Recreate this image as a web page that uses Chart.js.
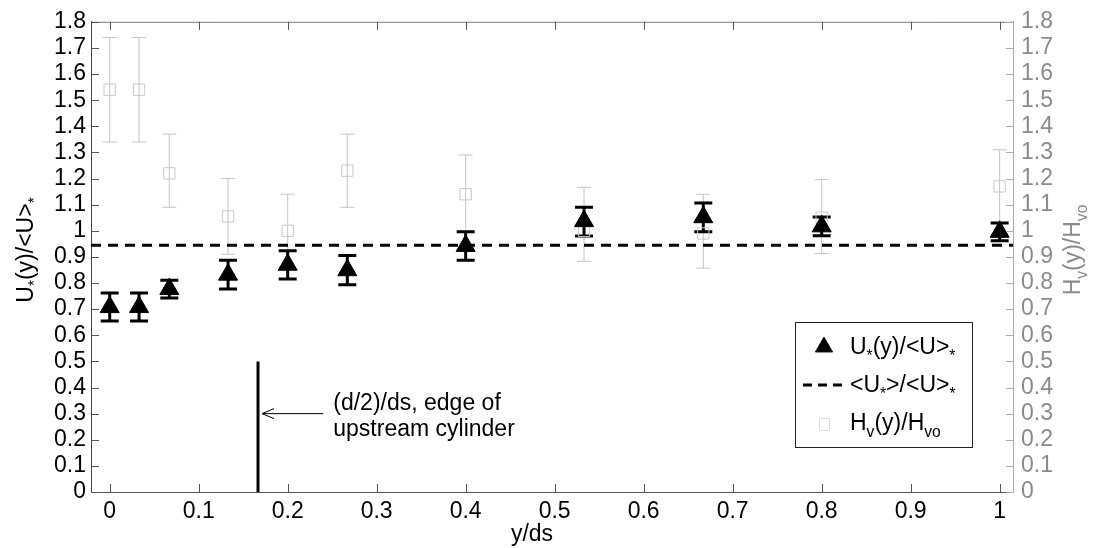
<!DOCTYPE html>
<html>
<head>
<meta charset="utf-8">
<script src="https://cdn.jsdelivr.net/npm/chart.js@4.4.1/dist/chart.umd.min.js"></script>
<style>
  html, body { margin: 0; padding: 0; background: #fff; }
  #wrap { width: 1094px; height: 548px; }
</style>
</head>
<body>
<div id="wrap"><canvas id="chart" width="1094" height="548"></canvas></div>
<script>
// measurement positions across the channel, y/ds
const yds = [0, 0.033, 0.067, 0.133, 0.2, 0.267, 0.4, 0.533, 0.667, 0.8, 1];

// U*(y)/<U>* with error bar ends
const uRatio = [0.708, 0.708, 0.777, 0.832, 0.87, 0.849, 0.942, 1.037, 1.052, 1.017, 0.996];
const uLow   = [0.655, 0.655, 0.743, 0.777, 0.815, 0.793, 0.887, 0.98, 0.996, 0.981, 0.962];
const uHigh  = [0.762, 0.762, 0.811, 0.887, 0.924, 0.905, 0.996, 1.09, 1.106, 1.053, 1.03];

// Hv(y)/Hvo (right axis) with error bar ends
const hRatio = [1.54, 1.54, 1.22, 1.055, 1.0, 1.23, 1.14, 1.0, 0.99, 1.05, 1.17];
const hLow   = [1.34, 1.34, 1.09, 0.91, 0.86, 1.09, 1.0, 0.883, 0.857, 0.913, 1.03];
const hHigh  = [1.74, 1.74, 1.37, 1.2, 1.14, 1.37, 1.29, 1.166, 1.14, 1.196, 1.31];

// <U*>/<U>*
const uMean = 0.945;

// edge of upstream cylinder, (d/2)/ds
const edgeX = 1 / 6;
const edgeTop = 0.5;
const arrowY = 0.3;
const arrowTailX = 0.24;

const xMin = -0.021, xMax = 1.015;
const xTicks = [0, 0.1, 0.2, 0.3, 0.4, 0.5, 0.6, 0.7, 0.8, 0.9, 1];
const yTicks = [0, 0.1, 0.2, 0.3, 0.4, 0.5, 0.6, 0.7, 0.8, 0.9, 1, 1.1, 1.2, 1.3, 1.4, 1.5, 1.6, 1.7, 1.8];

const FONT = 'Liberation Sans, Arial, sans-serif';
const GREY = '#8a8a8a';
const fmt = v => String(Number(v.toFixed(1)));

// draws text with subscript parts: parts = [[text, isSub], ...]
function richText(ctx, parts, x, y, size, align) {
  ctx.save();
  ctx.textBaseline = 'alphabetic';
  ctx.textAlign = 'left';
  let total = 0;
  parts.forEach(([t, sub]) => {
    ctx.font = (sub ? size * 0.68 : size) + 'px ' + FONT;
    total += ctx.measureText(t).width;
  });
  let cx = align === 'center' ? x - total / 2 : x;
  parts.forEach(([t, sub]) => {
    ctx.font = (sub ? size * 0.68 : size) + 'px ' + FONT;
    ctx.fillText(t, cx, y + (sub ? size * 0.3 : 0));
    cx += ctx.measureText(t).width;
  });
  ctx.restore();
}

const uLabel = [['U', 0], ['*', 1], ['(y)/<U>', 0], ['*', 1]];
const meanLabel = [['<U', 0], ['*', 1], ['>/<U>', 0], ['*', 1]];
const hLabel = [['H', 0], ['v', 1], ['(y)/H', 0], ['vo', 1]];

const extras = {
  id: 'extras',
  beforeDatasetsDraw(chart) {
    const { ctx, scales: { x, y, y2 } } = chart;
    ctx.save();
    // Hv error bars (light)
    ctx.strokeStyle = '#c4c4c4';
    ctx.lineWidth = 1;
    yds.forEach((v, i) => {
      const px = x.getPixelForValue(v);
      const lo = y2.getPixelForValue(hLow[i]), hi = y2.getPixelForValue(hHigh[i]);
      ctx.beginPath();
      ctx.moveTo(px, lo); ctx.lineTo(px, hi);
      ctx.moveTo(px - 7, lo); ctx.lineTo(px + 7, lo);
      ctx.moveTo(px - 7, hi); ctx.lineTo(px + 7, hi);
      ctx.stroke();
    });
    // U error bars
    ctx.strokeStyle = '#000';
    ctx.lineWidth = 3;
    yds.forEach((v, i) => {
      const px = x.getPixelForValue(v);
      const lo = y.getPixelForValue(uLow[i]), hi = y.getPixelForValue(uHigh[i]);
      ctx.beginPath();
      ctx.moveTo(px, lo); ctx.lineTo(px, hi);
      ctx.moveTo(px - 9, lo); ctx.lineTo(px + 9, lo);
      ctx.moveTo(px - 9, hi); ctx.lineTo(px + 9, hi);
      ctx.stroke();
    });
    ctx.restore();
  },
  afterDraw(chart) {
    const { ctx, chartArea: a, scales: { x, y, y2 } } = chart;
    ctx.save();
    // top frame
    ctx.strokeStyle = '#777';
    ctx.lineWidth = 1;
    ctx.beginPath();
    ctx.moveTo(a.left, a.top + 0.5); ctx.lineTo(a.right, a.top + 0.5);
    ctx.stroke();
    // inward tick marks
    ctx.strokeStyle = '#555';
    ctx.beginPath();
    xTicks.forEach(v => {
      const px = Math.round(x.getPixelForValue(v)) + 0.5;
      ctx.moveTo(px, a.bottom); ctx.lineTo(px, a.bottom - 8);
      ctx.moveTo(px, a.top); ctx.lineTo(px, a.top + 8);
    });
    yTicks.forEach(v => {
      const py = Math.round(y.getPixelForValue(v)) + 0.5;
      ctx.moveTo(a.left, py); ctx.lineTo(a.left + 8, py);
    });
    ctx.stroke();
    ctx.strokeStyle = '#aaa';
    ctx.beginPath();
    yTicks.forEach(v => {
      const py = Math.round(y2.getPixelForValue(v)) + 0.5;
      ctx.moveTo(a.right, py); ctx.lineTo(a.right - 7, py);
    });
    ctx.stroke();

    // arrow to the cylinder edge
    const ay = y.getPixelForValue(arrowY);
    const tip = x.getPixelForValue(edgeX) + 4;
    const tail = x.getPixelForValue(arrowTailX);
    ctx.strokeStyle = '#000';
    ctx.lineWidth = 1;
    ctx.beginPath();
    ctx.moveTo(tail, ay); ctx.lineTo(tip, ay);
    ctx.moveTo(tip + 12, ay - 5); ctx.lineTo(tip, ay); ctx.lineTo(tip + 12, ay + 5);
    ctx.stroke();
    ctx.fillStyle = '#000';
    ctx.font = '23px ' + FONT;
    ctx.textBaseline = 'alphabetic';
    ctx.fillText('(d/2)/ds, edge of', tail + 10, ay - 4);
    ctx.fillText('upstream cylinder', tail + 10, ay + 22);

    // axis titles
    ctx.fillStyle = '#000';
    richText(ctx, [['y/ds', 0]], 532, 541, 23, 'center');
    ctx.save();
    ctx.translate(33, 250);
    ctx.rotate(-Math.PI / 2);
    richText(ctx, uLabel, 0, 0, 23, 'center');
    ctx.restore();
    ctx.save();
    ctx.translate(1080, 250);
    ctx.rotate(-Math.PI / 2);
    ctx.fillStyle = GREY;
    richText(ctx, hLabel, 0, 0, 23, 'center');
    ctx.restore();

    // legend
    const lx = 795, ly = 322, lw = 177, lh = 125;
    ctx.fillStyle = '#fff';
    ctx.fillRect(lx, ly, lw, lh);
    ctx.strokeStyle = '#222';
    ctx.lineWidth = 1;
    ctx.strokeRect(lx + 0.5, ly + 0.5, lw, lh);
    Chart.helpers.drawPoint(ctx, { pointStyle: 'triangle', radius: 10, rotation: 0, borderWidth: 1 }, 824, 347);
    ctx.fillStyle = '#000';
    ctx.fill();
    ctx.save();
    ctx.strokeStyle = '#000';
    ctx.lineWidth = 3;
    ctx.setLineDash([9, 6]);
    ctx.beginPath();
    ctx.moveTo(803, 385); ctx.lineTo(846, 385);
    ctx.stroke();
    ctx.restore();
    ctx.strokeStyle = '#dedede';
    ctx.lineWidth = 1;
    ctx.strokeRect(819.5, 418.5, 10, 12);
    ctx.fillStyle = '#000';
    richText(ctx, uLabel, 850, 354, 23, 'left');
    richText(ctx, meanLabel, 850, 392, 23, 'left');
    richText(ctx, hLabel, 850, 430, 23, 'left');
    ctx.restore();
  }
};

const ctx = document.getElementById('chart').getContext('2d');
const chart = new Chart(ctx, {
  type: 'scatter',
  data: {
    datasets: [
      {
        label: 'U*(y)/<U>*',
        data: yds.map((v, i) => ({ x: v, y: uRatio[i] })),
        yAxisID: 'y',
        pointStyle: 'triangle',
        pointRadius: 11,
        backgroundColor: '#000',
        borderColor: '#000',
        borderWidth: 1
      },
      {
        label: '<U*>/<U>*',
        type: 'line',
        data: [{ x: xMin, y: uMean }, { x: xMax, y: uMean }],
        yAxisID: 'y',
        borderColor: '#000',
        borderWidth: 3,
        borderDash: [10, 7],
        pointRadius: 0,
        fill: false
      },
      {
        label: 'edge',
        type: 'line',
        data: [{ x: edgeX, y: 0 }, { x: edgeX, y: edgeTop }],
        yAxisID: 'y',
        borderColor: '#000',
        borderWidth: 3,
        pointRadius: 0,
        fill: false
      },
      {
        label: 'Hv(y)/Hvo',
        data: yds.map((v, i) => ({ x: v, y: hRatio[i] })),
        yAxisID: 'y2',
        pointStyle: 'rect',
        pointRadius: 8,
        backgroundColor: 'rgba(0,0,0,0)',
        borderColor: '#c8c8c8',
        borderWidth: 1
      }
    ]
  },
  options: {
    responsive: false,
    animation: false,
    layout: { padding: { top: 15, left: 0, right: 0, bottom: 0 } },
    plugins: { legend: { display: false }, tooltip: { enabled: false } },
    scales: {
      x: {
        type: 'linear',
        min: xMin,
        max: xMax,
        afterBuildTicks: s => { s.ticks = xTicks.map(v => ({ value: v })); },
        afterFit: s => { s.height = 56; },
        grid: { drawOnChartArea: false, drawTicks: false },
        border: { color: '#555', width: 1 },
        ticks: { padding: 6, color: '#000', font: { family: FONT, size: 23 }, callback: fmt, maxRotation: 0 }
      },
      y: {
        position: 'left',
        min: 0,
        max: 1.8,
        afterBuildTicks: s => { s.ticks = yTicks.map(v => ({ value: v })); },
        afterFit: s => { s.width = 91; },
        grid: { drawOnChartArea: false, drawTicks: false },
        border: { color: '#444', width: 1 },
        ticks: { padding: 5, color: '#000', font: { family: FONT, size: 23 }, callback: fmt, autoSkip: false }
      },
      y2: {
        position: 'right',
        min: 0,
        max: 1.8,
        afterBuildTicks: s => { s.ticks = yTicks.map(v => ({ value: v })); },
        afterFit: s => { s.width = 81; },
        grid: { drawOnChartArea: false, drawTicks: false },
        border: { color: '#aaa', width: 1 },
        ticks: { padding: 8, color: GREY, font: { family: FONT, size: 23 }, callback: fmt, autoSkip: false }
      }
    }
  },
  plugins: [extras]
});
</script>
</body>
</html>
